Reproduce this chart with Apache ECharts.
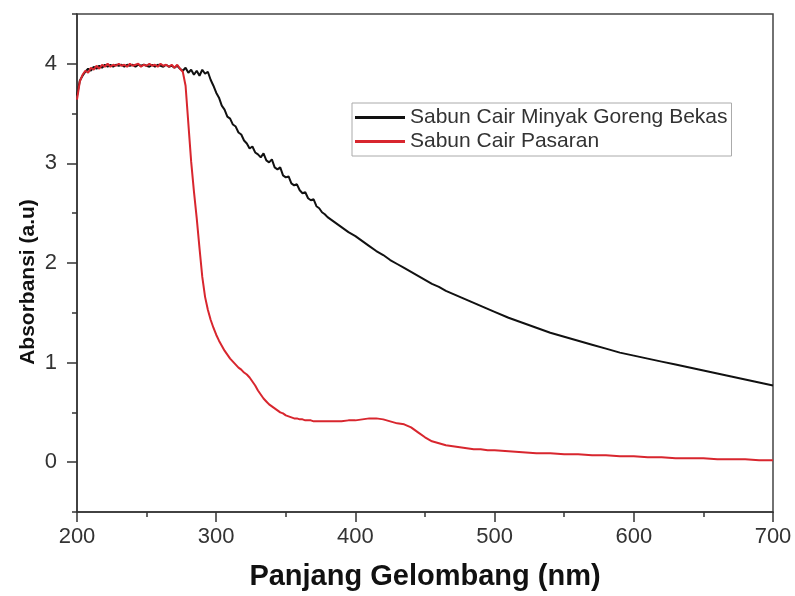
<!DOCTYPE html>
<html>
<head>
<meta charset="utf-8">
<script src="https://cdn.jsdelivr.net/npm/echarts@6/dist/echarts.min.js"></script>
<style>html,body{margin:0;padding:0;background:#fff;}#c{width:795px;height:596px;}</style>
</head>
<body>
<div id="c"></div>
<script>
var wavelength = [
  200,202,204,206,208,210,212,214,216,218,220,222,224,226,228,230,232,234,236,238,
  240,242,244,246,248,250,252,254,256,258,260,262,264,266,268,270,272,274,276,278,
  280,282,284,286,288,290,292,294,296,298,300,302,304,306,308,310,312,314,316,318,
  320,322,324,326,328,330,332,334,336,338,340,342,344,346,348,350,352,354,356,358,
  360,362,364,366,368,370,372,374,376,378,380,
  385,390,395,400,405,410,415,420,425,430,435,440,445,450,455,460,465,470,475,480,485,490,495,500,
  510,520,530,540,550,560,570,580,590,600,610,620,630,640,650,660,670,680,690,700
];
var bekas = [
  3.68,3.83,3.88,3.92,3.95,3.93,3.97,3.95,3.98,3.96,3.99,3.97,3.99,3.97,3.99,3.98,3.99,3.97,3.99,3.98,
  3.99,3.97,3.99,3.98,3.99,3.98,3.97,3.99,3.97,3.99,3.98,3.97,3.99,3.97,3.98,3.96,3.98,3.95,3.93,3.96,
  3.91,3.94,3.89,3.93,3.88,3.94,3.90,3.92,3.84,3.78,3.71,3.66,3.58,3.54,3.47,3.45,3.39,3.37,3.31,3.29,
  3.23,3.20,3.15,3.17,3.11,3.09,3.06,3.10,3.03,3.01,3.04,2.96,2.94,2.96,2.88,2.86,2.87,2.80,2.78,2.79,
  2.73,2.70,2.71,2.65,2.63,2.64,2.57,2.55,2.51,2.49,2.46,
  2.41,2.36,2.31,2.27,2.22,2.17,2.12,2.08,2.03,1.99,1.95,1.91,1.87,1.83,1.79,1.76,1.72,1.69,1.66,1.63,1.60,1.57,1.54,1.51,
  1.45,1.40,1.35,1.30,1.26,1.22,1.18,1.14,1.10,1.07,1.04,1.01,0.98,0.95,0.92,0.89,0.86,0.83,0.80,0.77
];
var pasaran = [
  3.64,3.82,3.89,3.93,3.91,3.96,3.94,3.98,3.95,3.99,3.97,4.00,3.97,3.99,3.98,4.00,3.98,3.99,3.97,4.00,
  3.98,3.99,4.00,3.97,3.99,3.98,4.00,3.98,3.99,3.97,4.00,3.98,3.99,3.97,3.99,3.96,3.99,3.95,3.92,3.78,
  3.40,3.02,2.72,2.45,2.15,1.86,1.66,1.53,1.43,1.35,1.28,1.22,1.17,1.12,1.08,1.04,1.01,0.98,0.95,0.93,
  0.90,0.88,0.85,0.81,0.77,0.72,0.68,0.64,0.61,0.58,0.56,0.54,0.52,0.50,0.49,0.47,0.46,0.45,0.44,0.44,
  0.43,0.43,0.42,0.42,0.42,0.41,0.41,0.41,0.41,0.41,0.41,
  0.41,0.41,0.42,0.42,0.43,0.44,0.44,0.43,0.41,0.39,0.38,0.35,0.30,0.25,0.21,0.19,0.17,0.16,0.15,0.14,0.13,0.13,0.12,0.12,
  0.11,0.10,0.09,0.09,0.08,0.08,0.07,0.07,0.06,0.06,0.05,0.05,0.04,0.04,0.04,0.03,0.03,0.03,0.02,0.02
];
var seriesNames = ['Sabun Cair Minyak Goreng Bekas', 'Sabun Cair Pasaran'];
var yMajorTicks = [0, 1, 2, 3, 4];
var yMinorTicks = [-0.5, 0.5, 1.5, 2.5, 3.5, 4.5];

function pairs(ys) { return wavelength.map(function (x, i) { return [x, ys[i]]; }); }

var chart = echarts.init(document.getElementById('c'), null, { renderer: 'canvas' });
var FONT = '"Liberation Sans", Arial, sans-serif';
chart.setOption({
  animation: false,
  backgroundColor: '#fff',
  grid: { left: 77, right: 22, top: 14, bottom: 81, show: true, borderColor: '#444', borderWidth: 1.5, backgroundColor: 'transparent' },
  legend: {
    orient: 'vertical', left: 352, top: 103,
    data: seriesNames,
    icon: 'rect', itemWidth: 50, itemHeight: 3, itemGap: 3,
    padding: [4, 4, 4, 3],
    borderColor: '#aaa', borderWidth: 1,
    textStyle: { fontFamily: FONT, fontSize: 21, color: '#333' }
  },
  xAxis: {
    type: 'value', min: 200, max: 700, interval: 100,
    axisLine: { onZero: false, lineStyle: { color: '#333', width: 1.5 } },
    axisTick: { show: true, inside: false, length: 10, lineStyle: { color: '#333', width: 1.5 } },
    minorTick: { show: true, splitNumber: 2, length: 5, lineStyle: { color: '#333', width: 1.5 } },
    splitLine: { show: false },
    axisLabel: { fontFamily: FONT, fontSize: 22, color: '#333', margin: 14 },
    name: 'Panjang Gelombang (nm)', nameLocation: 'middle', nameGap: 50,
    nameTextStyle: { fontFamily: FONT, fontSize: 29, fontWeight: 'bold', color: '#111' }
  },
  yAxis: [{
    type: 'value', min: -0.5, max: 4.5,
    axisLine: { show: true, onZero: false, lineStyle: { color: '#333', width: 1.5 } },
    axisTick: { show: true, inside: false, length: 10, customValues: yMajorTicks, lineStyle: { color: '#333', width: 1.5 } },
    splitLine: { show: false },
    axisLabel: { fontFamily: FONT, fontSize: 22, color: '#333', margin: 20, customValues: yMajorTicks }
  }, {
    type: 'value', min: -0.5, max: 4.5, position: 'left', offset: 0,
    axisLine: { show: false, onZero: false },
    axisTick: { show: true, inside: false, length: 5, customValues: yMinorTicks, lineStyle: { color: '#333', width: 1.5 } },
    splitLine: { show: false },
    axisLabel: { show: false, customValues: yMinorTicks }
  }],
  graphic: [{
    type: 'text', x: 28, y: 282, rotation: Math.PI / 2,
    style: { text: 'Absorbansi (a.u)', fontFamily: FONT, fontSize: 21, fontWeight: 'bold', fill: '#111', align: 'center', verticalAlign: 'middle' }
  }],
  series: [{
    name: seriesNames[0], type: 'line', data: pairs(bekas), showSymbol: false, yAxisIndex: 0,
    lineStyle: { color: '#111', width: 2 }, itemStyle: { color: '#111' }
  }, {
    name: seriesNames[1], type: 'line', data: pairs(pasaran), showSymbol: false, yAxisIndex: 0,
    lineStyle: { color: '#d8262e', width: 2 }, itemStyle: { color: '#d8262e' }
  }]
});
</script>
</body>
</html>
